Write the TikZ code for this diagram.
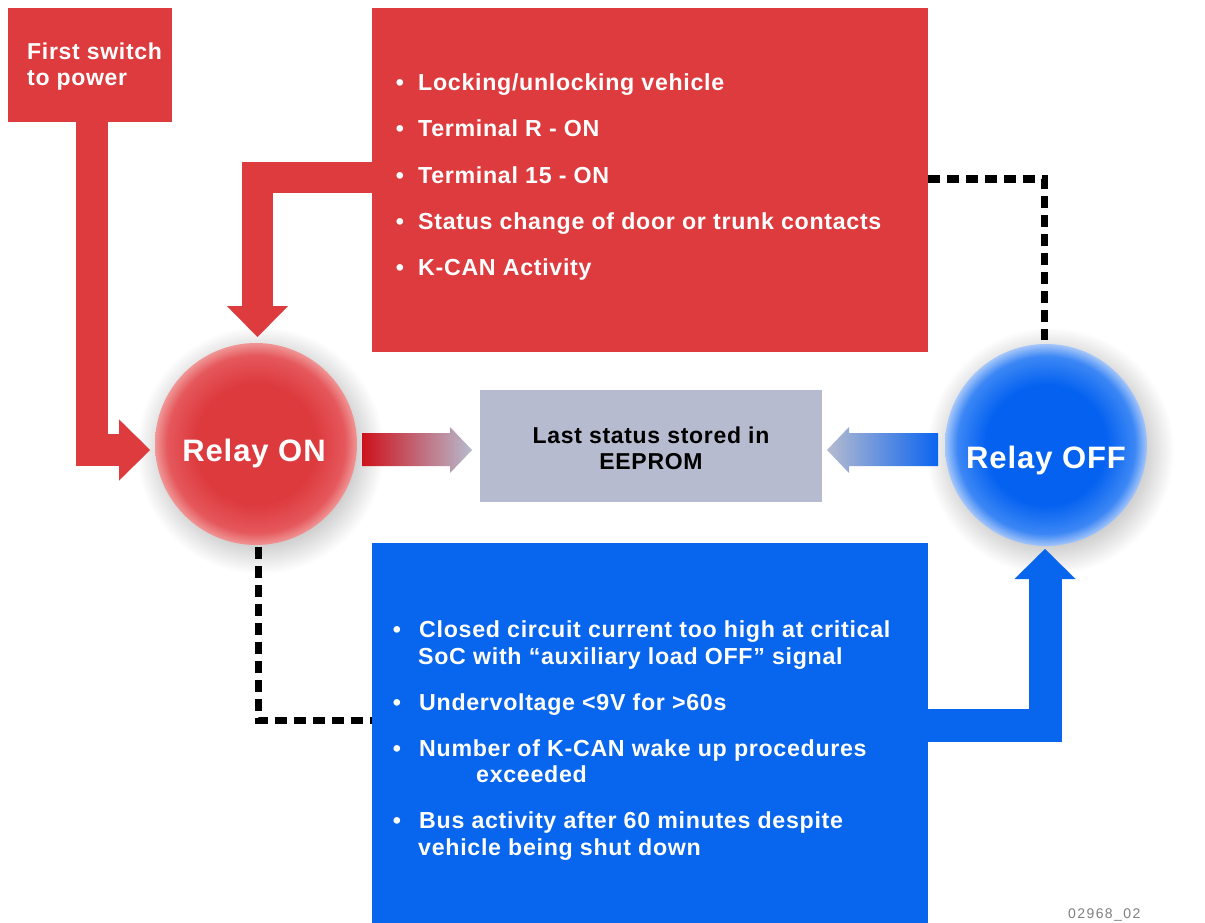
\documentclass[tikz,border=0pt]{standalone}
\usepackage{fontspec}
\setmainfont{Liberation Sans}[LetterSpace=3]
\usetikzlibrary{arrows.meta}
\definecolor{boxred}{RGB}{221,59,61}
\definecolor{boxblue}{RGB}{8,101,238}
\definecolor{eegrey}{RGB}{182,187,207}
\definecolor{deepred}{RGB}{205,18,28}
\definecolor{midred}{RGB}{196,120,130}
\definecolor{midblue}{RGB}{110,145,225}
\definecolor{brightblue}{RGB}{10,100,240}
\definecolor{onc}{RGB}{221,58,62}
\definecolor{onm}{RGB}{229,88,92}
\definecolor{one}{RGB}{240,150,150}
\definecolor{offc}{RGB}{5,98,240}
\definecolor{offm}{RGB}{60,135,245}
\definecolor{offe}{RGB}{165,198,250}
\definecolor{shc}{RGB}{208,208,208}
\pgfdeclareradialshading{onshade}{\pgfpoint{0bp}{0bp}}{color(0bp)=(onc); color(15bp)=(onc); color(22bp)=(onm); color(25bp)=(one); color(50bp)=(one)}
\pgfdeclareradialshading{offshade}{\pgfpoint{0bp}{0bp}}{color(0bp)=(offc); color(15bp)=(offc); color(22bp)=(offm); color(25bp)=(offe); color(50bp)=(offe)}
\pgfdeclareradialshading{shadowshade}{\pgfpoint{0bp}{0bp}}{color(0bp)=(shc); color(19bp)=(shc); color(25bp)=(white); color(50bp)=(white)}
\tikzset{
  wtext/.style={text=white, font=\bfseries\fontsize{23.2}{27}\selectfont, anchor=base west, inner sep=0pt},
  wbullet/.style={wtext, anchor=base},
  redarrow/.style={draw=boxred, line width=32pt, line join=miter,
    -{Triangle[length=31pt,width=61pt,line width=0.1pt]}},
  bluearrow/.style={draw=boxblue, line width=33pt, line join=miter,
    -{Triangle[length=30pt,width=61pt,line width=0.1pt]}},
  dashline/.style={draw=black, line width=7pt, dash pattern=on 12pt off 7pt},
  panel/.style={inner sep=0pt, anchor=north west, draw=none}
}
\begin{document}
\begin{tikzpicture}[x=1pt,y=-1pt]
\useasboundingbox (0,0) rectangle (1205,923);
\fill[white] (0,0) rectangle (1205,923);

% boxes
\node[panel, fill=boxred, minimum width=164pt, minimum height=114pt] (first) at (8,8) {};
\node[panel, fill=boxred, minimum width=556pt, minimum height=344pt] (topbox) at (372,8) {};
\node[panel, fill=eegrey, minimum width=342pt, minimum height=112pt] (eeprom) at (480,390) {};
\node[panel, fill=boxblue, minimum width=556pt, minimum height=380pt] (botbox) at (372,543) {};

% circles with soft shadows
\path[shading=shadowshade] (260,450) circle[radius=124pt];
\path[shading=shadowshade] (1050,451) circle[radius=124pt];
\node[circle, minimum size=202pt, inner sep=0pt, shading=onshade] (on) at (256,444) {};
\node[circle, minimum size=202pt, inner sep=0pt, shading=offshade] (off) at (1046,445) {};

% connector coordinates
\coordinate (fs) at (91.5,122);
\coordinate (fe) at (150,450);
\coordinate (ts) at (372,177.5);
\coordinate (te) at (257.5,337);
\coordinate (bs) at (928,725.5);
\coordinate (be) at (1045,549);
\coordinate (d1s) at (928,179);
\coordinate (d1e) at (1044,340);
\coordinate (d2s) at (258,547);
\coordinate (d2e) at (372,720);

% fat arrows
\draw[redarrow] (fs) |- (fe);
\draw[redarrow, line width=31pt] (ts) -| (te);
\draw[bluearrow] (bs) -| (be);

% dashed connectors
\draw[dashline] (d1s) -| (d1e);
\draw[dashline] (d2s) |- (d2e);

% gradient arrows into EEPROM box
\path[left color=deepred, middle color=midred, right color=eegrey]
  (362,433) -- (450,433) -- (450,427) -- (472,450) -- (450,473) -- (450,466) -- (362,466) -- cycle;
\path[left color=eegrey, middle color=midblue, right color=brightblue]
  (938,433) -- (849,433) -- (849,427) -- (827,450) -- (849,473) -- (849,466) -- (938,466) -- cycle;

% texts
\node[wtext, font=\bfseries\fontsize{23}{27}\selectfont] (ft1) at (27,60) {First switch};
\node[wtext, font=\bfseries\fontsize{23}{27}\selectfont] (ft2) at (27,86) {to power};

\node[wbullet] at (400,91) {\textbullet};
\node[wtext] (t1) at (418,91) {Locking/unlocking vehicle};
\node[wbullet] at (400,137) {\textbullet};
\node[wtext] (t2) at (418,137) {Terminal R - ON};
\node[wbullet] at (400,183) {\textbullet};
\node[wtext] (t3) at (418,183) {Terminal 15 - ON};
\node[wbullet] at (400,229) {\textbullet};
\node[wtext] (t4) at (418,229) {Status change of door or trunk contacts};
\node[wbullet] at (400,275) {\textbullet};
\node[wtext] (t5) at (418,275) {K-CAN Activity};

\node[wtext, anchor=base, font=\bfseries\fontsize{31}{35}\selectfont] (ontext) at (254,461) {Relay ON};
\node[wtext, anchor=base, font=\bfseries\fontsize{31}{35}\selectfont] (offtext) at (1046,468) {Relay OFF};

\node[wtext, anchor=base, text=black, font=\bfseries\fontsize{23}{27}\selectfont] (e1) at (651,443) {Last status stored in};
\node[wtext, anchor=base, text=black, font=\bfseries\fontsize{23}{27}\selectfont] (e2) at (651,469) {EEPROM};

\node[wbullet] at (397,637) {\textbullet};
\node[wtext] (b1) at (419,637) {Closed circuit current too high at critical};
\node[wtext] (b1b) at (418,664) {SoC with “auxiliary load OFF” signal};
\node[wbullet] at (397,710) {\textbullet};
\node[wtext] (b2) at (419,710) {Undervoltage <9V for >60s};
\node[wbullet] at (397,756) {\textbullet};
\node[wtext] (b3) at (419,756) {Number of K-CAN wake up procedures};
\node[wtext] (b3b) at (476,782) {exceeded};
\node[wbullet] at (397,828) {\textbullet};
\node[wtext] (b4) at (419,828) {Bus activity after 60 minutes despite};
\node[wtext] (b4b) at (418,855) {vehicle being shut down};

\node[anchor=base west, inner sep=0pt, text=gray, font=\fontsize{14}{16}\selectfont\addfontfeatures{LetterSpace=10}] (code) at (1068,918) {02968\_02};
\end{tikzpicture}
\end{document}
